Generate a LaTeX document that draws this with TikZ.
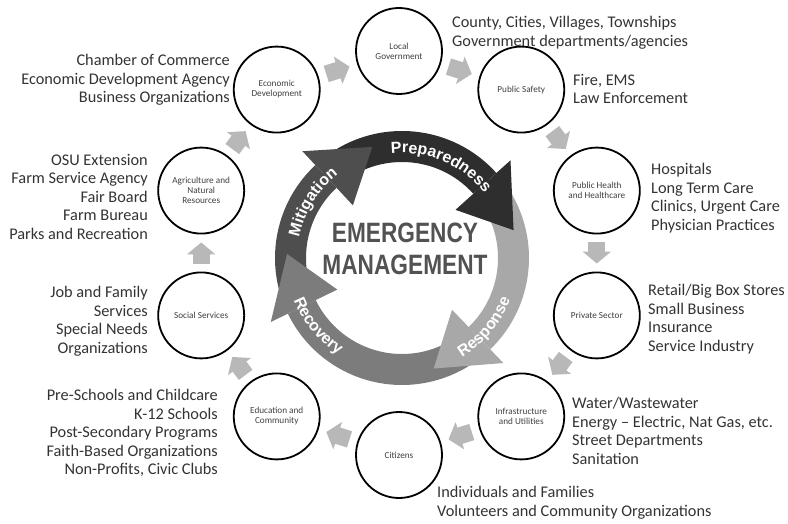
\documentclass[tikz,border=0pt]{standalone}
\usepackage{fontspec}
\setmainfont{Carlito}
\newfontfamily\headfont{Liberation Sans}
\usetikzlibrary{arrows,arrows.meta,positioning,decorations.text}

\definecolor{prepcol}{HTML}{2E2E2E}
\definecolor{respcol}{HTML}{A8A8A8}
\definecolor{reccol}{HTML}{7C7C7C}
\definecolor{mitcol}{HTML}{4E4E4E}
\definecolor{flowcol}{HTML}{B8B8B8}
\newcommand{\phasefont}{\headfont\bfseries\fontsize{16}{16}\selectfont}

\begin{document}
\begin{tikzpicture}[x=1pt, y=1pt,
		hub/.style={circle, draw=black, line width=1.8pt, fill=white, minimum size=86pt, inner sep=1pt, align=center, font=\fontsize{9.2}{10}\selectfont, text=black!75},
		infoleft/.style={anchor=north west, inner sep=0pt, align=left, font=\fontsize{16.3}{18.5}\selectfont, text=black!80},
		inforight/.style={anchor=north east, inner sep=0pt, align=right, font=\fontsize{16.3}{18.5}\selectfont, text=black!80},
		flow/.style={draw=flowcol, line width=17pt, -{Triangle[length=12pt, width=28pt]}, shorten <=8pt, shorten >=8pt},
		phase/.style={postaction={decorate, decoration={text along path, text align=center, text color=white, text={|\phasefont|#1}}}}]
		\useasboundingbox (0,0) rectangle (788,523);
		\coordinate (c) at (399,270);

		\node[hub] (local) at ([shift={(90:208 and 202)}]c) {Local\\Government};
		\node[hub] (safety) at ([shift={(54:208 and 202)}]c) {Public Safety};
		\node[hub] (health) at ([shift={(18:208 and 202)}]c) {Public Health\\and Healthcare};
		\node[hub] (private) at ([shift={(-18:208 and 202)}]c) {Private Sector};
		\node[hub] (infra) at ([shift={(-54:208 and 202)}]c) {Infrastructure\\and Utilities};
		\node[hub] (citizens) at ([shift={(-90:208 and 202)}]c) {Citizens};
		\node[hub] (education) at ([shift={(-126:208 and 202)}]c) {Education and\\Community};
		\node[hub] (social) at ([shift={(-162:208 and 202)}]c) {Social Services};
		\node[hub] (agri) at ([shift={(162:208 and 202)}]c) {Agriculture and\\Natural\\Resources};
		\node[hub] (econ) at ([shift={(126:208 and 202)}]c) {Economic\\Development};

		\foreach \a/\b in {econ/local, local/safety, safety/health, health/private, private/infra, infra/citizens, citizens/education, education/social, social/agri, agri/econ}
			\draw[flow] (\a) -- (\b);

		\node[infoleft] (localinfo) at (452,507) {County, Cities, Villages, Townships\\Government departments/agencies};
		\node[infoleft] (safetyinfo) at (573,449) {Fire, EMS\\Law Enforcement};
		\node[infoleft] (healthinfo) at (651,360) {Hospitals\\Long Term Care\\Clinics, Urgent Care\\Physician Practices};
		\node[infoleft] (privateinfo) at (648,239) {Retail/Big Box Stores\\Small Business\\Insurance\\Service Industry};
		\node[infoleft] (infrainfo) at (572,126) {Water/Wastewater\\Energy – Electric, Nat Gas, etc.\\Street Departments\\Sanitation};
		\node[infoleft] (citizensinfo) at (437,37) {Individuals and Families\\Volunteers and Community Organizations};
		\node[inforight] (educationinfo) at (218,134) {Pre-Schools and Childcare\\K-12 Schools\\Post-Secondary Programs\\Faith-Based Organizations\\Non-Profits, Civic Clubs};
		\node[inforight] (socialinfo) at (148,237) {Job and Family\\Services\\Special Needs\\Organizations};
		\node[inforight] (agriinfo) at (148,369) {OSU Extension\\Farm Service Agency\\Fair Board\\Farm Bureau\\Parks and Recreation};
		\node[inforight] (econinfo) at (230,469) {Chamber of Commerce\\Economic Development Agency\\Business Organizations};

		\begin{scope}[shift={(402,265)}]
			\foreach \s/\e/\col in {131/42/prepcol, 40/-46/respcol, -48/-154/reccol, -156/-227/mitcol}
				\fill[\col] (\s:127) arc[start angle=\s, end angle=\e, radius=127] -- (\e:96) arc[start angle=\e, end angle=\s, radius=96] -- cycle;
			\foreach \b/\t/\col in {42/14/prepcol, -46/-74/respcol, -154/-182/reccol, -227/-255/mitcol}
				\fill[\col] (\b:146) -- (\t:115) -- (\b:72) -- cycle;
			\path[phase=Preparedness] (100:105) arc[start angle=100, end angle=34, radius=105];
			\path[phase=Response] (-64:116) arc[start angle=-64, end angle=-16, radius=116];
			\path[phase=Recovery] (196:116) arc[start angle=196, end angle=242, radius=116];
			\path[phase=Mitigation] (175:105) arc[start angle=175, end angle=121, radius=105];
			\node[font=\headfont\bfseries\fontsize{28}{32}\selectfont, text=black!68, align=center, xscale=0.81, inner sep=0pt] (title) at (3,9) {EMERGENCY\\MANAGEMENT};
		\end{scope}
	\end{tikzpicture}
\end{document}
